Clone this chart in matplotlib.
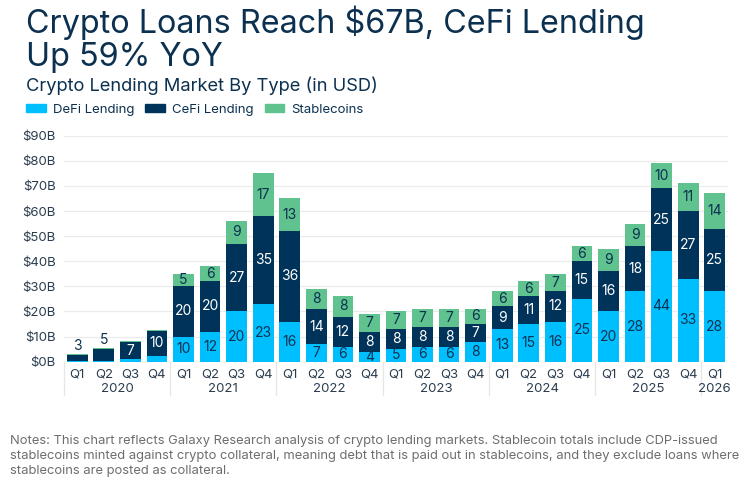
import numpy as np
import matplotlib
matplotlib.use("Agg")
import matplotlib.pyplot as plt
from matplotlib.patches import Patch
from matplotlib.transforms import blended_transform_factory

plt.rcParams['font.family'] = ['Inter', 'DejaVu Sans']

# Данные (млрд USD)
years = ['2020', '2021', '2022', '2023', '2024', '2025', '2026']
quarters = ['Q1', 'Q2', 'Q3', 'Q4'] * 6 + ['Q1']
defi = [0.2, 0.3, 1.0, 2.4, 10, 12, 20, 23, 16, 7, 6, 4, 5, 6, 6, 8,
        13, 15, 16, 25, 20, 28, 44, 33, 28]
cefi = [2.6, 4.7, 6.8, 9.8, 20, 20, 27, 35, 36, 14, 12, 8, 8, 8, 8, 7,
        9, 11, 12, 15, 16, 18, 25, 27, 25]
stable = [0.1, 0.3, 0.5, 0.5, 5, 6, 9, 17, 13, 8, 8, 7, 7, 7, 7, 6,
          6, 6, 7, 6, 9, 9, 10, 11, 14]

c_defi = '#00bfff'
c_cefi = '#003359'
c_stab = '#5fc28f'
navy = '#0c3150'
gray_txt = '#2b3d4f'

fig = plt.figure(figsize=(7.54, 4.87), dpi=100)
ax = fig.add_axes([64 / 754, 1 - 361.7 / 487, 664 / 754, 226 / 487])

x = np.arange(len(defi))
defi = np.array(defi)
cefi = np.array(cefi)
stable = np.array(stable)
w = 0.78
ax.bar(x, defi, w, color=c_defi, zorder=2)
ax.bar(x, cefi, w, bottom=defi, color=c_cefi, zorder=2)
ax.bar(x, stable, w, bottom=defi + cefi, color=c_stab, zorder=2)

# подписи значений
for i in range(len(x)):
    total = defi[i] + cefi[i] + stable[i]
    if total < 6:
        ax.text(x[i], total + 0.6, f'{cefi[i]:.0f}', ha='center', va='bottom',
                color=navy, fontsize=10)
        continue
    if defi[i] >= 3:
        ax.text(x[i], defi[i] / 2, f'{defi[i]:.0f}', ha='center', va='center',
                color=navy, fontsize=10, zorder=3)
    if cefi[i] >= 3:
        ax.text(x[i], defi[i] + cefi[i] / 2, f'{cefi[i]:.0f}', ha='center',
                va='center', color='white', fontsize=10, zorder=3)
    if stable[i] >= 3:
        ax.text(x[i], defi[i] + cefi[i] + stable[i] / 2, f'{stable[i]:.0f}',
                ha='center', va='center', color=navy, fontsize=10, zorder=3)

ax.set_xlim(-0.5, len(x) - 0.5)
ax.set_ylim(0, 90)
ax.set_yticks(np.arange(0, 91, 10))
ax.set_yticklabels([f'${v}B' for v in range(0, 91, 10)])
ax.grid(axis='y', color='#ebebeb', lw=0.9, zorder=0)
for s in ax.spines.values():
    s.set_visible(False)
ax.tick_params(axis='both', length=0, labelsize=9.5, labelcolor=gray_txt)
ax.tick_params(axis='y', pad=6)
ax.set_xticks(x)
ax.set_xticklabels(quarters)
ax.tick_params(axis='x', pad=5)

# года и разделители
tr = blended_transform_factory(ax.transData, ax.transAxes)
for k, yr in enumerate(years):
    start = k * 4
    end = min(start + 3, len(x) - 1)
    ax.text((start + end) / 2, -0.122, yr, transform=tr, ha='center',
            va='center', fontsize=9.5, color=gray_txt)
    ax.plot([start - 0.5, start - 0.5], [0, -0.147], transform=tr,
            color='#e6e6e6', lw=0.9, clip_on=False)

# заголовки
fig.text(26 / 754, 1 - 6 / 487, 'Crypto Loans Reach $67B, CeFi Lending\nUp 59% YoY',
         fontsize=23.3, color=navy, va='top', ha='left', linespacing=1.07)
fig.text(26 / 754, 1 - 85.5 / 487, 'Crypto Lending Market By Type (in USD)',
         fontsize=13.2, color=navy, va='center', ha='left')

handles = [Patch(color=c_defi, label='DeFi Lending'),
           Patch(color=c_cefi, label='CeFi Lending'),
           Patch(color=c_stab, label='Stablecoins')]
fig.legend(handles=handles, loc='center left', bbox_to_anchor=(21 / 754, 1 - 110 / 487),
           ncol=3, frameon=False, fontsize=9.5, handlelength=1.5, handleheight=0.55,
           handletextpad=0.55, columnspacing=0.8, labelcolor=navy, borderaxespad=0)

notes = ('Notes: This chart reflects Galaxy Research analysis of crypto lending markets. '
         'Stablecoin totals include CDP-issued\nstablecoins minted against crypto collateral, '
         'meaning debt that is paid out in stablecoins, and they exclude loans where\n'
         'stablecoins are posted as collateral.')
fig.text(10 / 754, 1 - 435 / 487, notes, fontsize=9.35, color='#6e6e6e', va='top',
         ha='left', linespacing=1.32)

fig.savefig('out.png', dpi=100)
